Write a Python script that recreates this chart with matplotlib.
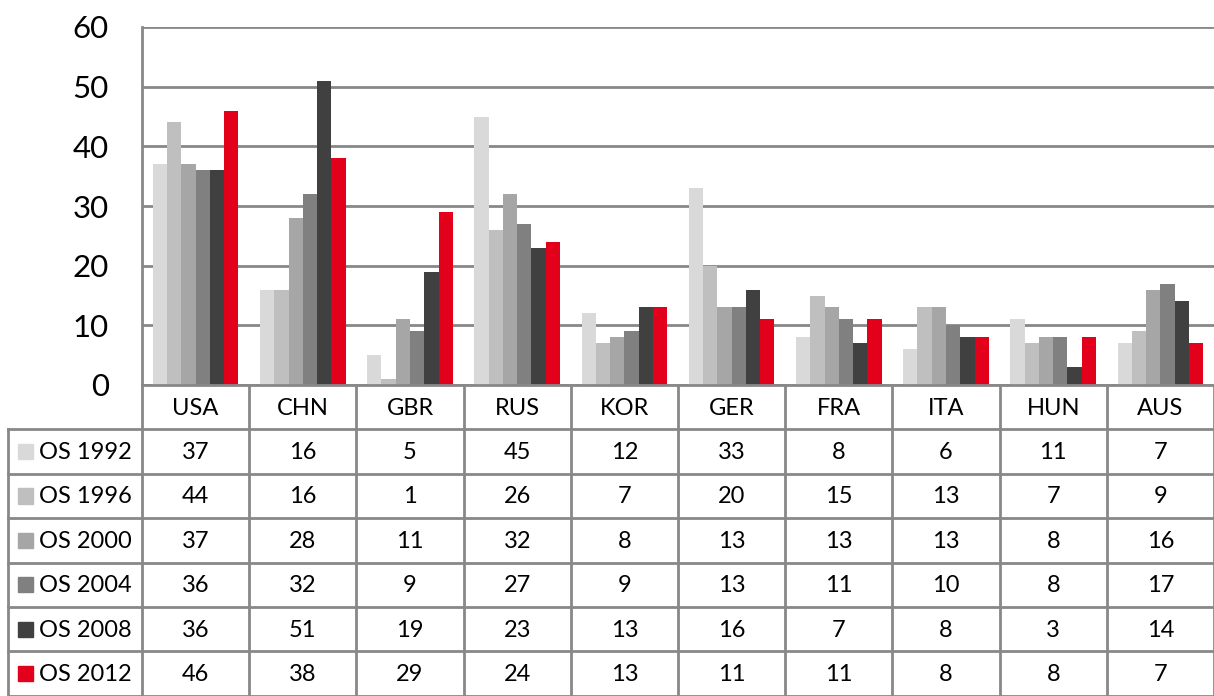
import matplotlib.pyplot as plt
import numpy as np
from matplotlib.lines import Line2D
from matplotlib.patches import Rectangle

plt.rcParams['font.family'] = ['Lato', 'DejaVu Sans']

countries = ['USA', 'CHN', 'GBR', 'RUS', 'KOR', 'GER', 'FRA', 'ITA', 'HUN', 'AUS']
series = ['OS 1992', 'OS 1996', 'OS 2000', 'OS 2004', 'OS 2008', 'OS 2012']
os1992 = [37, 16, 5, 45, 12, 33, 8, 6, 11, 7]
os1996 = [44, 16, 1, 26, 7, 20, 15, 13, 7, 9]
os2000 = [37, 28, 11, 32, 8, 13, 13, 13, 8, 16]
os2004 = [36, 32, 9, 27, 9, 13, 11, 10, 8, 17]
os2008 = [36, 51, 19, 23, 13, 16, 7, 8, 3, 14]
os2012 = [46, 38, 29, 24, 13, 11, 11, 8, 8, 7]
values = [os1992, os1996, os2000, os2004, os2008, os2012]
colors = ['#d9d9d9', '#bfbfbf', '#a6a6a6', '#808080', '#404040', '#e2001a']

W, H = 1214, 696
fig = plt.figure(figsize=(W / 100, H / 100), dpi=100)

left, right = 142, 1214
top, base = 27, 385
ax = fig.add_axes([left / W, (H - base) / H, (right - left) / W, (base - top) / H])

x = np.arange(len(countries))
bw = 0.8 / len(series)
for i, (name, vals) in enumerate(zip(series, values)):
    ax.bar(x - 0.4 + bw * (i + 0.5), vals, width=bw, color=colors[i], zorder=2)

ax.set_xlim(-0.5, len(countries) - 0.5)
ax.set_ylim(0, 60)
ax.set_yticks(range(0, 61, 10))
ax.yaxis.grid(True, color='#888888', linewidth=2, zorder=1)
ax.set_axisbelow(True)
ax.tick_params(axis='y', length=0, pad=24, labelsize=22.5)
ax.tick_params(axis='x', length=0, labelbottom=False)
for s in ['top', 'right', 'bottom']:
    ax.spines[s].set_visible(False)
ax.spines['left'].set_color('#888888')
ax.spines['left'].set_linewidth(2)

# data table below the axes
nrows = len(series) + 1
row_h = 44.4
tax = fig.add_axes([left / W, (H - base - nrows * row_h) / H, (right - left) / W, nrows * row_h / H])
tax.set_xlim(-0.5, len(countries) - 0.5)
tax.set_ylim(nrows, 0)
tax.axis('off')

lc = '#888888'
lw = 2
colw = (right - left) / len(countries)
xl = -0.5 - (left - 8) / colw
# horizontal lines
tax.add_line(Line2D([-0.5, len(countries) - 0.5], [0, 0], color=lc, lw=lw, clip_on=False))
for r in range(1, nrows + 1):
    tax.add_line(Line2D([xl, len(countries) - 0.5], [r, r], color=lc, lw=lw, clip_on=False))
# vertical lines
for c in range(len(countries) + 1):
    tax.add_line(Line2D([c - 0.5, c - 0.5], [0, nrows], color=lc, lw=lw, clip_on=False))
tax.add_line(Line2D([xl, xl], [1, nrows], color=lc, lw=lw, clip_on=False))

fs = 17
for c, name in enumerate(countries):
    tax.text(c, 0.52, name, ha='center', va='center', fontsize=fs, clip_on=False)
for r, (name, vals) in enumerate(zip(series, values), start=1):
    tax.add_patch(Rectangle((xl + 10 / colw, r + 0.33), 15 / colw, 0.34,
                            color=colors[r - 1], clip_on=False))
    tax.text(xl + 31 / colw, r + 0.52, name, ha='left', va='center', fontsize=fs, clip_on=False)
    for c, v in enumerate(vals):
        tax.text(c, r + 0.52, str(v), ha='center', va='center', fontsize=fs, clip_on=False)

fig.savefig('out.png', dpi=100)
